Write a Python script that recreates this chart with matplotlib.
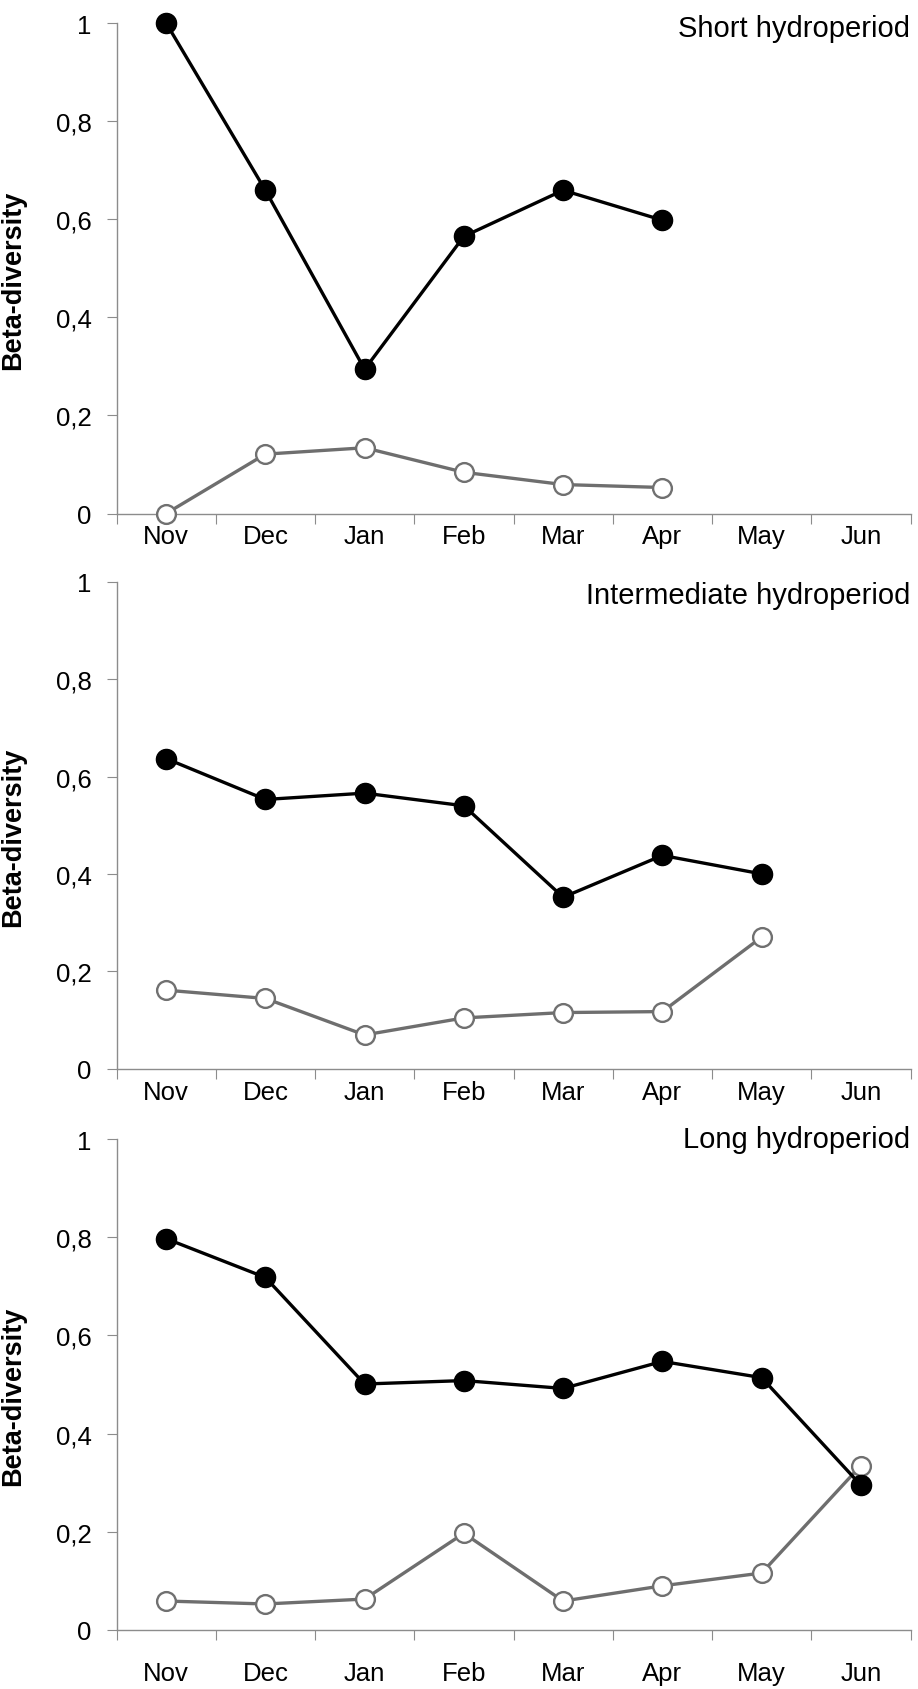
import matplotlib
matplotlib.use("Agg")
import matplotlib.pyplot as plt

months = ["Nov", "Dec", "Jan", "Feb", "Mar", "Apr", "May", "Jun"]

short_black = [1.0, 0.659, 0.294, 0.565, 0.659, 0.598]
short_gray = [0.0, 0.121, 0.134, 0.084, 0.059, 0.053]

inter_black = [0.637, 0.553, 0.566, 0.540, 0.352, 0.438, 0.400]
inter_gray = [0.161, 0.144, 0.069, 0.104, 0.115, 0.117, 0.270]

long_black = [0.797, 0.718, 0.501, 0.508, 0.492, 0.547, 0.514, 0.295]
long_gray = [0.059, 0.053, 0.063, 0.197, 0.059, 0.090, 0.116, 0.335]

titles = ["Short hydroperiod", "Intermediate hydroperiod", "Long hydroperiod"]
yticks = [0, 0.2, 0.4, 0.6, 0.8, 1]
ytick_labels = ["0", "0,2", "0,4", "0,6", "0,8", "1"]

plt.rcParams['font.family'] = ['Liberation Sans', 'DejaVu Sans']

fig = plt.figure(figsize=(9.18, 16.9), dpi=100)

W, H = 918.0, 1690.0
left = 116.5 / W
width = 794 / W
panels = [
    (514.5, 490.5, short_black, short_gray, 0.99, 7.5),
    (1069.5, 486.5, inter_black, inter_gray, 0.973, 8),
    (1631, 491, long_black, long_gray, 1.0, 22),
]

axis_color = "#8c8c8c"
tick_fs = 18.5
for i, (bot_px, h_px, blk, gry, ty, xpad) in enumerate(panels):
    ax = fig.add_axes([left, (H - bot_px) / H, width, h_px / H])
    xb = list(range(len(blk)))
    xg = list(range(len(gry)))
    ax.plot(xg, gry, color="#6e6e6e", lw=2.4, marker="o", ms=13.5,
            mfc="white", mec="#707070", mew=1.7, clip_on=False, zorder=3)
    ax.plot(xb, blk, color="black", lw=2.4, marker="o", ms=14.5,
            mfc="black", mec="black", clip_on=False, zorder=4)
    ax.set_xlim(-0.5, 7.5)
    ax.set_ylim(0, 1)
    for s in ["top", "right"]:
        ax.spines[s].set_visible(False)
    for s in ["left", "bottom"]:
        ax.spines[s].set_color(axis_color)
        ax.spines[s].set_linewidth(1.0)
    ax.set_yticks(yticks)
    ax.set_yticklabels(ytick_labels, fontsize=tick_fs)
    ax.tick_params(axis="y", direction="out", length=7, color=axis_color, pad=11)
    ax.set_xticks([k - 0.5 for k in range(9)])
    ax.set_xticklabels([])
    ax.tick_params(axis="x", which="major", direction="out", length=7, color=axis_color)
    ax.set_xticks(range(8), minor=True)
    ax.set_xticklabels(months, minor=True, fontsize=tick_fs)
    ax.tick_params(axis="x", which="minor", length=0, pad=xpad)
    ax.set_ylabel("Beta-diversity", fontsize=19.5, fontweight="bold")
    ax.yaxis.set_label_coords(-0.114, 0.478)
    ax.text(1.0, ty, titles[i], transform=ax.transAxes, ha="right", va="center",
            fontsize=21)

fig.savefig("out.png", dpi=100)
